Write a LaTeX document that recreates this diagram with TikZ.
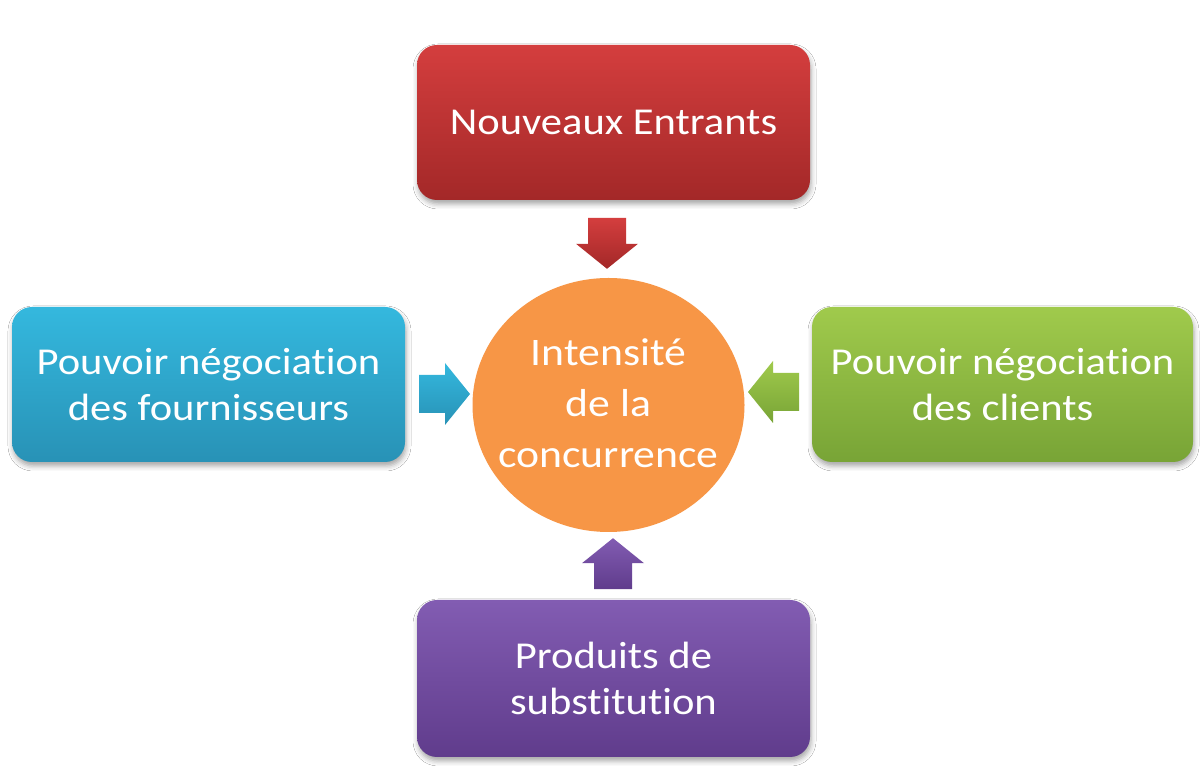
\documentclass[tikz,border=0pt]{standalone}
\usepackage{fontspec}
\setmainfont{Carlito}
\newfontfamily\dfont[FakeStretch=1.12,Ligatures=NoCommon]{Carlito}
\usetikzlibrary{shapes.geometric,shadows.blur,calc}
\definecolor{redA}{RGB}{212,62,62}
\definecolor{redB}{RGB}{163,40,40}
\definecolor{blueA}{RGB}{52,184,222}
\definecolor{blueB}{RGB}{40,146,182}
\definecolor{greenA}{RGB}{160,202,76}
\definecolor{greenB}{RGB}{120,164,54}
\definecolor{purA}{RGB}{130,92,178}
\definecolor{purB}{RGB}{96,60,140}
\definecolor{orangeC}{RGB}{247,150,70}
\tikzset{
  forcebox/.style={rounded corners=20pt, minimum width=393pt, minimum height=155pt,
    inner sep=0pt, text=white, align=center,
    font=\dfont\fontsize{38}{46}\selectfont,
    blur shadow={shadow xshift=1pt, shadow yshift=-4pt, shadow blur radius=5pt, shadow opacity=35}},
  centretext/.style={text=white, align=center, inner sep=0pt,
    font=\dfont\fontsize{39}{51}\selectfont},
}
\begin{document}
\begin{tikzpicture}[x=1pt,y=1pt]
\fill[white] (0,0) rectangle (1200,779);
\useasboundingbox (0,0) rectangle (1200,779);

\node[forcebox, top color=redA, bottom color=redB] (top) at (613.5,656.5) {Nouveaux Entrants};
\node[forcebox, top color=blueA, bottom color=blueB] (left) at (208.5,394.5) {Pouvoir négociation\\des fournisseurs};
\node[forcebox, minimum width=381pt, top color=greenA, bottom color=greenB] (right) at (1002.5,394.5) {Pouvoir négociation\\des clients};
\node[forcebox, minimum height=157pt, top color=purA, bottom color=purB] (bottom) at (613.5,100.5) {Produits de\\substitution};

\node[ellipse, minimum width=272pt, minimum height=254pt, inner sep=0pt, fill=orangeC] (c) at (608.5,374) {};
\node[centretext] (ct) at ($(c.center)+(0,2)$) {Intensité\\de la\\concurrence};

\coordinate (tr) at ($(c.north)+(-1.5,9)$);
\coordinate (tb) at (470,385);
\coordinate (tg) at (748,387);
\coordinate (tp) at ($(c.south)+(4.5,-6)$);

\shade[top color=redA, bottom color=redB]
  (tr) -- ++(31,25) -- ++(-12,0) -- ++(0,26) -- ++(-38,0) -- ++(0,-26) -- ++(-12,0) -- cycle;
\shade[top color=blueA, bottom color=blueB]
  (tb) -- ++(-25,31) -- ++(0,-12) -- ++(-26,0) -- ++(0,-38) -- ++(26,0) -- ++(0,-12) -- cycle;
\shade[top color=greenA, bottom color=greenB]
  (tg) -- ++(25,31) -- ++(0,-12) -- ++(26,0) -- ++(0,-38) -- ++(-26,0) -- ++(0,-12) -- cycle;
\shade[top color=purA, bottom color=purB]
  (tp) -- ++(31,-25) -- ++(-12,0) -- ++(0,-26) -- ++(-38,0) -- ++(0,26) -- ++(-12,0) -- cycle;
\end{tikzpicture}
\end{document}
